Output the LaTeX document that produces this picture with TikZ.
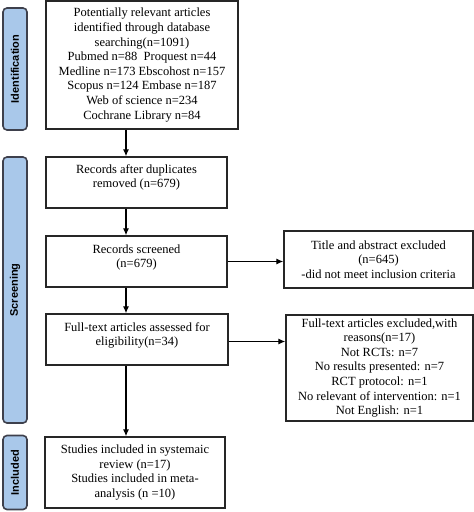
\documentclass[tikz,border=0pt]{standalone}
\usepackage{fontspec}
\setmainfont{Liberation Serif}
\setsansfont{Liberation Sans}
\usetikzlibrary{positioning,arrows.meta}
\definecolor{phasefill}{RGB}{169,200,234}
\definecolor{phaseline}{RGB}{62,64,76}
\tikzset{
  phase/.style={draw=phaseline,line width=1.6pt,fill=phasefill,rounded corners=4pt,
    minimum width=24pt,inner sep=0pt,font=\sffamily\bfseries\fontsize{11}{13}\selectfont},
  box/.style={draw=black!85,line width=1.3pt,inner sep=2pt,align=center,
    font=\fontsize{12.5}{14.6}\selectfont},
  txt/.style={inner sep=0pt,align=center,font=\fontsize{12.5}{14.6}\selectfont},
  arr/.style={-{Latex[length=7pt,width=6pt]},line width=1.2pt}
}
\begin{document}
\begin{tikzpicture}[x=1pt,y=-1pt]
\useasboundingbox (0,0) rectangle (474,512);
% phases on the left
\node[phase,minimum height=122pt] (idf) at (15,69) {};
\node[rotate=90,font=\sffamily\bfseries\fontsize{11}{13}\selectfont] at (idf) {Identification};
\node[phase,minimum height=266pt] (scrn) at (15,290) {};
\node[rotate=90,font=\sffamily\bfseries\fontsize{11}{13}\selectfont] at (scrn) {Screening};
\node[phase,minimum height=74pt] (incl) at (15,472.5) {};
\node[rotate=90,font=\sffamily\bfseries\fontsize{11}{13}\selectfont] at (incl) {Included};
% main column
\node[box,minimum width=192pt,minimum height=128pt] (src) at (142,65)
  {Potentially relevant articles\\identified through database\\searching(n=1091)\\
   Pubmed n=88\ \ Proquest n=44\\Medline n=173 Ebscohost n=157\\
   Scopus n=124 Embase n=187\\Web of science n=234\\Cochrane Library n=84};
\node[box,minimum width=181pt,minimum height=51pt] (dup) at (136.5,182.5) {};
\node[txt,below=8pt of dup.north] (duptxt) {Records after duplicates\\removed (n=679)};
\node[box,minimum width=181pt,minimum height=51pt] (scr) at (136.5,261.5) {};
\node[txt,below=9pt of scr.north] (scrtxt) {Records screened\\(n=679)};
\node[box,minimum width=182pt,minimum height=51pt] (full) at (137,339.5) {};
\node[txt,below=9pt of full.north] (fulltxt) {Full-text articles assessed for\\eligibility(n=34)};
\node[box,minimum width=180pt,minimum height=71pt] (inc) at (135,472.5)
  {Studies included in systemaic\\review (n=17)\\Studies included in meta-\\analysis (n =10)};
% exclusions
\node[box,minimum width=189pt,minimum height=57pt] (exa) at (378.5,259.5)
  {Title and abstract excluded\\(n=645)\\-did not meet inclusion criteria};
\node[box,minimum width=187pt,minimum height=106pt] (exb) at (379.5,368)
  {Full-text articles excluded,with\\reasons(n=17)\\Not RCTs: n=7\\No results presented: n=7\\
   RCT protocol: n=1\\No relevant of intervention: n=1\\Not English: n=1};
% arrows
\coordinate (spine) at (126,0);
\draw[arr] (src.south -| spine) -- (dup.north -| spine);
\draw[arr] (dup.south -| spine) -- (scr.north -| spine);
\draw[arr] (scr.south -| spine) -- (full.north -| spine);
\draw[arr] (full.south -| spine) -- (inc.north -| spine);
\draw[arr] (scr.east) -- (scr.east -| exa.west);
\draw[arr] ([yshift=-2pt]full.east) -- ([yshift=-2pt]full.east -| exb.west);
\end{tikzpicture}
\end{document}
